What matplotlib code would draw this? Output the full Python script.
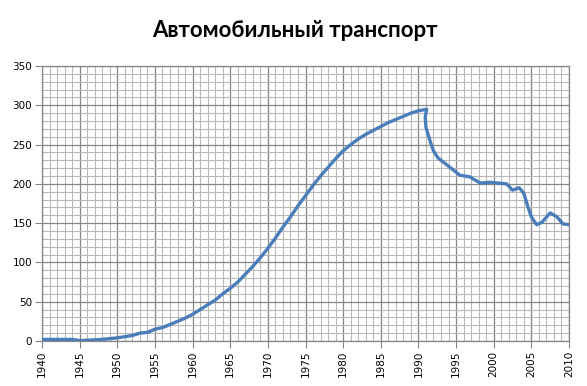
import matplotlib
matplotlib.use("Agg")
import matplotlib.pyplot as plt
from matplotlib.ticker import MultipleLocator

# данные (читаются с графика)
years = [1940, 1944, 1945, 1946, 1948, 1950, 1952, 1953, 1954, 1955, 1956, 1957,
         1958, 1959, 1960, 1961, 1962, 1963, 1964, 1965, 1966, 1967, 1968, 1969,
         1970, 1971, 1972, 1973, 1974, 1975, 1976, 1977, 1978, 1979, 1980, 1981,
         1982, 1983, 1984, 1985, 1986, 1987, 1988, 1989, 1990, 1991.1, 1990.9,
         1991.0, 1991.5, 1992.0, 1992.6, 1993.8, 1995.5, 1996.8, 1998.2, 1999.5,
         2001.7, 2002.5, 2003.4, 2004.0, 2004.5, 2005.0, 2005.7, 2006.4, 2007.5,
         2008.4, 2009.2, 2010]
values = [2, 2, 0.5, 1, 2, 4, 7, 10, 11, 15, 17, 21,
          25, 29, 34, 40, 46, 52, 60, 67, 75, 85, 95, 106,
          118, 131, 145, 158, 172, 185, 198, 210, 221, 232, 242, 250,
          257, 263, 268, 273, 278, 282, 286, 290, 293, 295, 285,
          272, 256, 242, 233, 224, 211, 209, 201, 202,
          200, 192, 195, 188, 172, 158, 148, 151, 163,
          158, 149, 148]

title = "Автомобильный транспорт"

fig = plt.figure(figsize=(5.87, 3.86), dpi=100)
ax = fig.add_axes([42/587, 45/386, 527/587, 275/386])

ax.plot(years, values, color="#4a7ebb", lw=2.4, solid_capstyle="round",
        solid_joinstyle="round", zorder=3)

ax.set_xlim(1940, 2010)
ax.set_ylim(0, 350)
ax.xaxis.set_major_locator(MultipleLocator(5))
ax.xaxis.set_minor_locator(MultipleLocator(1))
ax.yaxis.set_major_locator(MultipleLocator(50))
ax.yaxis.set_minor_locator(MultipleLocator(10))

ax.grid(which="minor", color="#b8b8b8", lw=0.8)
ax.grid(which="major", color="#868686", lw=0.9)
ax.set_axisbelow(True)

for s in ax.spines.values():
    s.set_color("#868686")
    s.set_linewidth(0.9)

ax.tick_params(which="major", length=5, color="#868686", labelsize=7.5, pad=2)
ax.tick_params(which="minor", length=0)
for lab in ax.get_xticklabels():
    lab.set_rotation(90)

fig.text(0.503, 0.922, title, ha="center", va="center",
         fontsize=16, fontweight="bold", family=["Lato", "DejaVu Sans"])

fig.savefig("out.png", dpi=100)
